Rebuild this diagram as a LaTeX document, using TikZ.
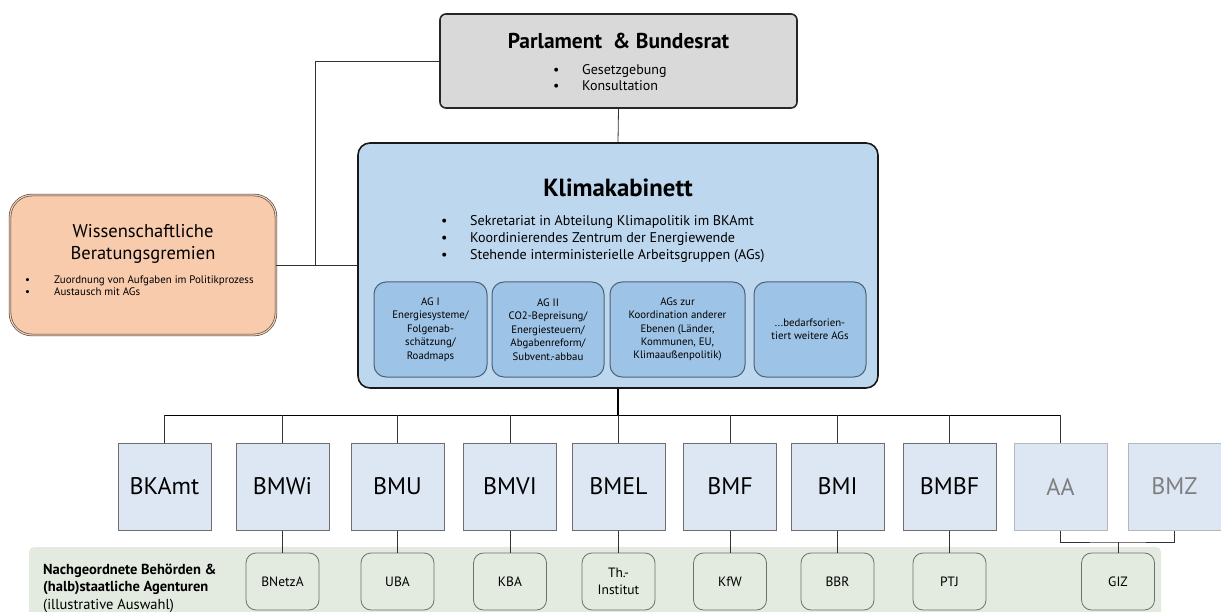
\documentclass[tikz,border=0pt]{standalone}
\usepackage{fontspec}
\setmainfont{PT Sans}
\definecolor{parlgray}{HTML}{D9D9D9}
\definecolor{kkblue}{HTML}{BDD7EE}
\definecolor{agblue}{HTML}{9DC3E6}
\definecolor{agline}{HTML}{4F6275}
\definecolor{peach}{HTML}{F8CBAD}
\definecolor{minblue}{HTML}{DCE7F3}
\definecolor{minline}{HTML}{6E6E6E}
\definecolor{fadeline}{HTML}{B4B9BE}
\definecolor{fadetext}{HTML}{7F7F7F}
\definecolor{bandgreen}{HTML}{E3EADF}
\definecolor{subline}{HTML}{707070}
\newcommand{\fs}[2]{\fontsize{#1}{#2}\selectfont}
\newcommand{\bul}[1]{\makebox[#1][l]{\textbullet}}
\begin{document}
\begin{tikzpicture}[x=1pt,y=-1pt,
  parlbox/.style={draw=black!85, line width=1.6pt, fill=parlgray, rounded corners=6pt, inner sep=0pt},
  kkbox/.style={draw=black!90, line width=1.6pt, fill=kkblue, rounded corners=12pt, inner sep=0pt},
  agbox/.style={draw=agline, line width=1pt, fill=agblue, rounded corners=12pt, minimum height=95pt, align=center, font=\fs{10.8}{13.4}, inner sep=0pt},
  wissbox/.style={draw=black!75, double=peach, double distance=1.2pt, line width=0.6pt, fill=peach, rounded corners=22pt, inner sep=0pt},
  minbox/.style={draw=minline, line width=1pt, fill=minblue, minimum width=93pt, minimum height=87pt, font=\fs{24}{28}, inner sep=0pt},
  fadebox/.style={minbox, draw=fadeline, text=fadetext},
  subbox/.style={draw=subline, line width=0.8pt, fill=bandgreen, rounded corners=10pt, minimum width=73pt, minimum height=57pt, font=\fs{13.5}{16.5}, align=center, inner sep=0pt},
  conn/.style={draw=black!80, line width=0.8pt},
  busline/.style={draw=black, line width=0.9pt},
  txt/.style={inner sep=0pt, align=left}
]
\useasboundingbox (0,0) rectangle (1221,612);
\fill[white] (0,0) rectangle (1221,612);

% green band
\fill[bandgreen, rounded corners=5pt] (29,547) rectangle (1161,640);

% Parlament
\node[parlbox, minimum width=357pt, minimum height=94pt] (parl) at (618.5,61) {};
\node[inner sep=0pt, font=\bfseries\fs{21.5}{24}] (parltitle) at (618.5,41) {Parlament\ \ \&~Bundesrat};
\node[txt, anchor=west, font=\fs{14}{16}] (parlbul) at (553,78) {\bul{29pt}Gesetzgebung\\\bul{29pt}Konsultation};

% Klimakabinett
\node[kkbox, minimum width=520pt, minimum height=245pt] (kk) at (618,265.5) {};
\node[inner sep=0pt, font=\bfseries\fs{24.8}{28}] (kktitle) at (618,188) {Klimakabinett};
\node[txt, anchor=west, font=\fs{14.1}{17}] (kkbul) at (441,239) {\bul{29pt}Sekretariat in Abteilung Klimapolitik im BKAmt\\\bul{29pt}Koordinierendes Zentrum der Energiewende\\\bul{29pt}Stehende interministerielle Arbeitsgruppen (AGs)};

\node[agbox, minimum width=113pt] (ag1) at (430.5,329.5) {AG I\\Energiesysteme/\\Folgenab-\\schätzung/\\Roadmaps};
\node[agbox, minimum width=112pt] (ag2) at (548,329.5) {AG II\\CO2-Bepreisung/\\Energiesteuern/\\Abgabenreform/\\Subvent.-abbau};
\node[agbox, minimum width=135pt] (ag3) at (677.5,329.5) {AGs zur\\Koordination anderer\\Ebenen (Länder,\\Kommunen, EU,\\Klimaaußenpolitik)};
\node[agbox, minimum width=112pt] (ag4) at (810,329.5) {...bedarfsorien-\\tiert weitere AGs};

% Wissenschaftliche Beratungsgremien
\node[wissbox, minimum width=266pt, minimum height=140pt] (wiss) at (143,265) {};
\node[inner sep=0pt, align=center, font=\fs{18.5}{22}] (wisstitle) at (143,244) {Wissenschaftliche\\Beratungsgremien};
\node[txt, anchor=west, font=\fs{10.9}{12.3}] (wissbul) at (25,286) {\bul{29pt}Zuordnung von Aufgaben im Politikprozess\\\bul{29pt}Austausch mit AGs};

% top connectors
\coordinate (wj) at (315,265);
\draw[conn] (parl.west) -| (wj);
\draw[conn] (wiss.east) -- (wiss.east -| kk.west);
\draw[conn] (parl.south) -- (kk.north);

% ministries
\node[minbox] (bkamt) at (164.5,486.5) {BKAmt};
\node[minbox] (bmwi) at (282.5,486.5) {BMWi};
\node[minbox] (bmu) at (397.5,486.5) {BMU};
\node[minbox] (bmvi) at (510,486.5) {BMVI};
\node[minbox] (bmel) at (618.5,486.5) {BMEL};
\node[minbox] (bmf) at (730,486.5) {BMF};
\node[minbox] (bmi) at (837.5,486.5) {BMI};
\node[minbox] (bmbf) at (949.5,486.5) {BMBF};
\node[fadebox] (aa) at (1060.5,486.5) {AA};
\node[fadebox] (bmz) at (1174.5,486.5) {BMZ};

% bus
\coordinate (bus) at (618,415);
\draw[busline, line width=1.4pt] (kk.south) -- (bus);
\draw[busline] (bkamt.north |- bus) -- (aa.north |- bus);
\foreach \m in {bkamt,bmwi,bmu,bmvi,bmel,bmf,bmi,bmbf,aa}
  \draw[conn] (\m.north) -- (\m.north |- bus);

% band text
\node[txt, anchor=west, font=\fs{14.5}{17.5}] (bandtxt) at (43,588) {\textbf{Nachgeordnete Behörden \&}\\\textbf{(halb)staatliche Agenturen}\\(illustrative Auswahl)};

% sub agencies
\node[subbox] (bnetza) at (282.5,581.5) {BNetzA};
\node[subbox] (uba) at (397.5,581.5) {UBA};
\node[subbox] (kba) at (510,581.5) {KBA};
\node[subbox] (thi) at (618.5,581.5) {Th.-\\Institut};
\node[subbox] (kfw) at (730,581.5) {KfW};
\node[subbox] (bbr) at (837.5,581.5) {BBR};
\node[subbox] (ptj) at (949.5,581.5) {PTJ};
\node[subbox] (giz) at (1118,581.5) {GIZ};

\draw[conn] (bmwi.south) -- (bnetza.north);
\draw[conn] (bmu.south) -- (uba.north);
\draw[conn] (bmvi.south) -- (kba.north);
\draw[conn] (bmel.south) -- (thi.north);
\draw[conn] (bmf.south) -- (kfw.north);
\draw[conn] (bmi.south) -- (bbr.north);
\draw[conn] (bmbf.south) -- (ptj.north);
\coordinate (gj) at (1118,542);
\draw[conn] (aa.south) |- (gj) -| (bmz.south);
\draw[conn] (giz.north) -- (gj);
\end{tikzpicture}
\end{document}
